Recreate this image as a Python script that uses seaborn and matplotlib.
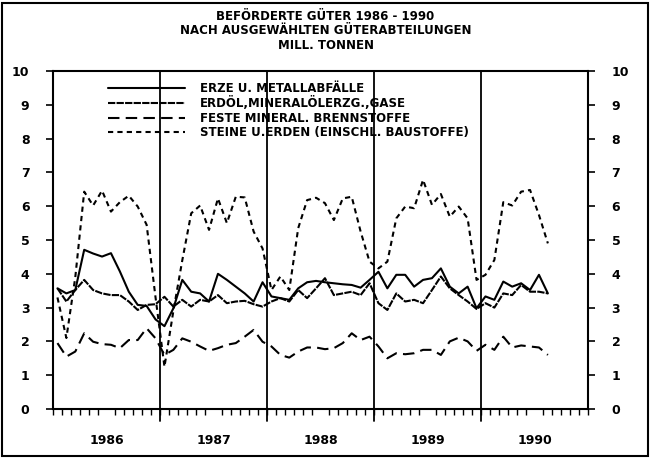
import numpy as np
import pandas as pd
import matplotlib
matplotlib.use("Agg")
import matplotlib.pyplot as plt
import seaborn as sns
from matplotlib.patches import Rectangle

# ---------------- data (monthly, Jan 1986 - Aug 1990, Mill. Tonnen) ----------------
series_names = [
    "ERZE U. METALLABFÄLLE",
    "ERDÖL,MINERALÖLERZG.,GASE",
    "FESTE MINERAL. BRENNSTOFFE",
    "STEINE U.ERDEN (EINSCHL. BAUSTOFFE)",
]
year_labels = ["1986", "1987", "1988", "1989", "1990"]

erze = [3.57, 3.42, 3.52, 4.71, 4.60, 4.51, 4.61, 4.07, 3.47, 3.08, 3.05, 2.65,
        2.45, 2.98, 3.82, 3.47, 3.42, 3.18, 4.00, 3.82, 3.62, 3.42, 3.18, 3.75,
        3.33, 3.28, 3.23, 3.57, 3.75, 3.79, 3.75, 3.72, 3.69, 3.67, 3.59, 3.82,
        4.06, 3.57, 3.97, 3.97, 3.62, 3.82, 3.87, 4.16, 3.62, 3.42, 3.62, 2.98,
        3.33, 3.23, 3.77, 3.62, 3.72, 3.52, 3.97, 3.42]
erdoel = [3.57, 3.18, 3.52, 3.82, 3.52, 3.42, 3.37, 3.37, 3.18, 2.93, 3.08, 3.10,
          3.32, 3.03, 3.23, 3.03, 3.23, 3.18, 3.37, 3.13, 3.18, 3.20, 3.10, 3.03,
          3.18, 3.28, 3.18, 3.52, 3.28, 3.57, 3.87, 3.37, 3.42, 3.47, 3.37, 3.72,
          3.13, 2.93, 3.42, 3.18, 3.23, 3.13, 3.52, 3.92, 3.57, 3.37, 3.18, 2.96,
          3.13, 3.00, 3.42, 3.37, 3.67, 3.47, 3.47, 3.42]
feste = [1.95, 1.55, 1.70, 2.24, 1.99, 1.92, 1.90, 1.80, 2.04, 2.04, 2.39, 2.09,
         1.60, 1.75, 2.09, 1.99, 1.85, 1.72, 1.80, 1.90, 1.95, 2.14, 2.34, 1.99,
         1.85, 1.60, 1.52, 1.70, 1.82, 1.82, 1.77, 1.80, 1.95, 2.24, 2.04, 2.14,
         1.85, 1.50, 1.65, 1.62, 1.65, 1.75, 1.75, 1.60, 2.00, 2.11, 2.00, 1.72,
         1.90, 1.75, 2.14, 1.82, 1.88, 1.85, 1.82, 1.60]
steine = [3.30, 2.10, 3.90, 6.43, 6.02, 6.46, 5.84, 6.12, 6.31, 5.99, 5.45, 3.30,
          1.25, 2.90, 4.40, 5.79, 6.02, 5.30, 6.23, 5.50, 6.28, 6.26, 5.25, 4.75,
          3.52, 3.92, 3.52, 5.35, 6.18, 6.25, 6.09, 5.59, 6.23, 6.28, 5.25, 4.36,
          4.16, 4.36, 5.64, 5.99, 5.94, 6.78, 6.04, 6.36, 5.69, 5.99, 5.64, 3.82,
          3.97, 4.41, 6.12, 6.02, 6.43, 6.48, 5.74, 4.90]

# ---------------- build long table ----------------
n = len(erze)
t = 1986 + (np.arange(n) + 0.5) / 12.0
frames = []
for name, vals in zip(series_names, [erze, erdoel, feste, steine]):
    frames.append(pd.DataFrame({"t": t, "value": vals, "series": name}))
df = pd.concat(frames, ignore_index=True)

sns.set_theme(style="white", rc={"text.color": "black", "axes.labelcolor": "black",
                                 "xtick.color": "black", "ytick.color": "black",
                                 "axes.edgecolor": "black"})
plt.rcParams["font.family"] = ["DejaVu Sans"]
plt.rcParams["font.weight"] = "bold"

fig = plt.figure(figsize=(6.51, 4.59), dpi=100)
ax = fig.add_axes([53 / 651, 1 - 409 / 459, 535 / 651, 338 / 459])

dashes = {
    series_names[0]: "",
    series_names[1]: (3.5, 0.6),
    series_names[2]: (5.5, 3),
    series_names[3]: (2.5, 2),
}
sns.lineplot(data=df, x="t", y="value", style="series", dashes=dashes,
             color="black", linewidth=1.5, ax=ax, legend=True)

ax.set_xlim(1986, 1991)
ax.set_ylim(0, 10)
ax.set_xlabel("")
ax.set_ylabel("")

# year separators
for yr in range(1987, 1991):
    ax.axvline(yr, ymin=-0.035, ymax=1.0, color="black", lw=1.3, clip_on=False)

# ticks
ax.set_yticks(range(0, 11))
ax.set_yticklabels([str(v) for v in range(0, 11)])
ax.tick_params(axis="y", which="major", direction="out", length=5, width=1.2,
               left=True, right=True, labelleft=True, labelright=True,
               pad=12, labelsize=9, colors="black")
ax.set_xticks([1986.5 + i for i in range(len(year_labels))])
ax.set_xticklabels(year_labels)
ax.set_xticks([1986 + k / 12 for k in range(61)], minor=True)
ax.tick_params(axis="x", which="major", length=0, pad=18, labelsize=9, colors="black")
ax.tick_params(axis="x", which="minor", direction="out", length=4, width=1.0,
               bottom=True, color="black")
for lab in ax.get_xticklabels() + ax.get_yticklabels():
    lab.set_fontweight("bold")
    lab.set_color("black")

for sp in ax.spines.values():
    sp.set_visible(True)
    sp.set_color("black")
    sp.set_linewidth(1.5)

# legend
handles, labels = ax.get_legend_handles_labels()
pairs = [(h, l) for h, l in zip(handles, labels) if l in series_names]
leg = ax.legend([p[0] for p in pairs], [p[1] for p in pairs],
                loc="upper left", bbox_to_anchor=((108 - 53) / 535, (409 - 82) / 338),
                frameon=False, borderpad=0, borderaxespad=0,
                handlelength=6.5, handletextpad=1.3, labelspacing=0.12,
                prop={"size": 8.5, "weight": "bold"})
for txt in leg.get_texts():
    txt.set_color("black")

# title
fig.text(0.5, 1 - 31 / 459, "BEFÖRDERTE GÜTER 1986 - 1990\nNACH AUSGEWÄHLTEN GÜTERABTEILUNGEN\nMILL. TONNEN",
         ha="center", va="center", fontsize=8.5, fontweight="bold", linespacing=1.15,
         color="black")

# outer frame
fig.patches.append(Rectangle((2 / 651, 3 / 459), 646 / 651, 453 / 459,
                             transform=fig.transFigure, fill=False,
                             edgecolor="black", lw=1.5))

fig.savefig("out.png", dpi=100)
